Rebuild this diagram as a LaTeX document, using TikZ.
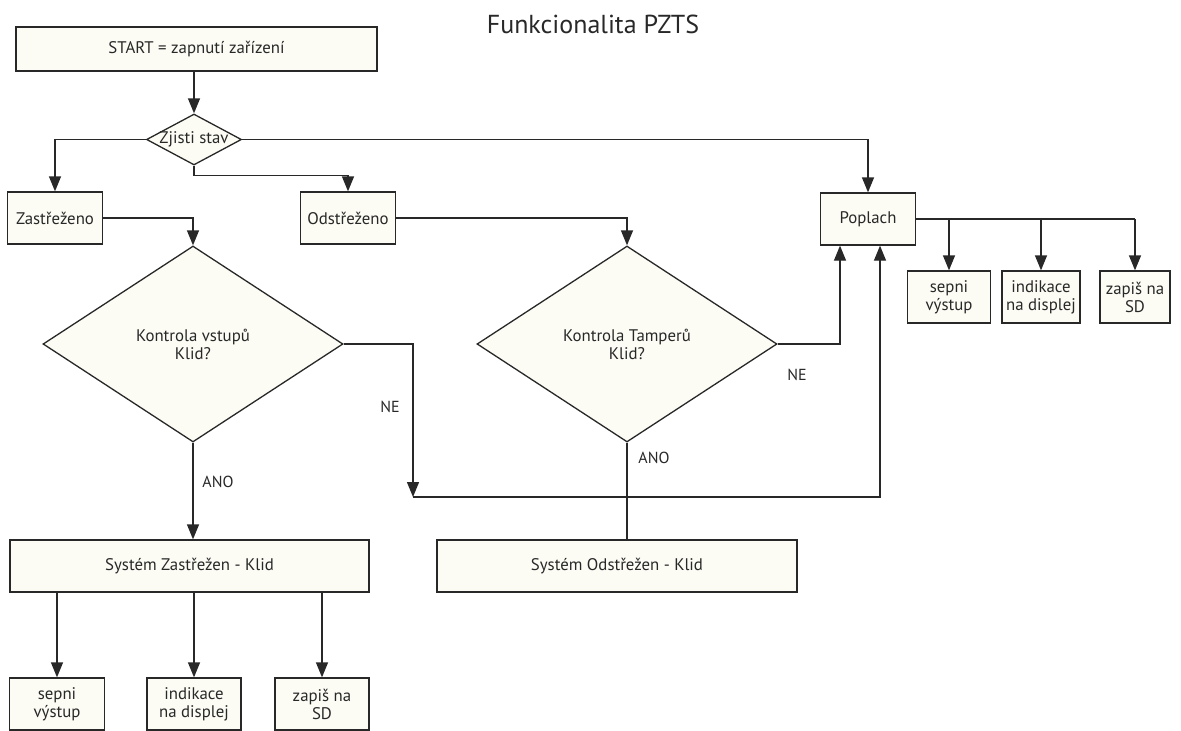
\documentclass[tikz,border=0pt]{standalone}
\usepackage{fontspec}
\setmainfont{PT Sans}
\usetikzlibrary{shapes.geometric,arrows.meta}
\definecolor{boxfill}{RGB}{252,252,245}
\definecolor{ink}{RGB}{40,40,40}
\begin{document}
\begin{tikzpicture}[x=1pt,y=-1pt,
  every node/.style={font=\fontsize{16.8}{20}\selectfont, text=ink},
  box/.style={draw=ink, line width=1.3pt, fill=boxfill, rectangle, inner sep=0pt,
    align=center, minimum height=52pt},
  dia/.style={draw=ink, line width=1.3pt, fill=boxfill, diamond, inner sep=0pt,
    align=center},
  line/.style={draw=ink, line width=1.3pt},
  arr/.style={line, -{Triangle[length=15pt,width=12pt]}},
  lbl/.style={font=\fontsize{16}{19}\selectfont}
]
\useasboundingbox (0,0) rectangle (1181,731);

% title
\node (title) at (593,24) {\fontsize{26}{30}\selectfont Funkcionalita PZTS};

% top of the flow
\node[box, minimum width=361pt, minimum height=44pt] (start) at (196.5,49) {START = zapnutí zařízení};
\node[dia, minimum width=95pt, minimum height=51pt] (zjisti) at (194,139.5) {};
\node (zjistitext) at (zjisti.center) {Zjisti stav};

% states
\node[box, minimum width=95pt] (zast) at (55,218) {Zastřeženo};
\node[box, minimum width=95pt] (odst) at (348,218) {Odstřeženo};
\node[box, minimum width=95pt] (poplach) at (868,219) {Poplach};

% alarm actions
\node[box, minimum width=83pt] (pa) at (949,297) {sepni\\[-2pt]výstup};
\node[box, minimum width=78pt] (pb) at (1041,297) {indikace\\[-2pt]na displej};
\node[box, minimum width=70pt] (pc) at (1135,297) {zapiš na\\[-2pt]SD};

% checks
\node[dia, minimum width=300pt, minimum height=196pt] (d1) at (193,344) {Kontrola vstupů\\[-2pt]Klid?};
\node[dia, minimum width=300pt, minimum height=196pt] (d2) at (627,344) {Kontrola Tamperů\\[-2pt]Klid?};

% quiet states
\node[box, minimum width=359pt] (sysz) at (189.5,566) {Systém Zastřežen - Klid};
\node[box, minimum width=360pt] (syso) at (617,566) {Systém Odstřežen - Klid};

% armed-state actions
\node[box, minimum width=95pt] (ba) at (57,704) {sepni\\[-2pt]výstup};
\node[box, minimum width=94pt] (bb) at (194,704) {indikace\\[-2pt]na displej};
\node[box, minimum width=94pt] (bc) at (322,704) {zapiš na\\[-2pt]SD};

% junction of the NE branch
\coordinate (merge) at (413,497);
\coordinate (popa) at ([xshift=-28pt]poplach.south);
\coordinate (popb) at ([xshift=12pt]poplach.south);

% connectors
\draw[arr] (zjisti.north |- start.south) -- (zjisti.north);
\draw[arr] (zjisti.west) -| (zast.north);
\draw[arr] (zjisti.south) -- ++(0,10) -| (odst.north);
\draw[arr] (zjisti.east) -| (poplach.north);
\draw[arr] (zast.east) -| (d1.north);
\draw[arr] (odst.east) -| (d2.north);
\draw[arr] (d1.south) -- (d1.south |- sysz.north);
\draw[line] (d2.south) -- (d2.south |- syso.north);
\draw[arr] (d1.east) -| (merge);
\draw[arr] (merge) -| (popb);
\draw[arr] (d2.east) -| (popa);
\draw[line] (poplach.east) -- (poplach.east -| pc.north);
\foreach \t in {pa,pb,pc} \draw[arr] (poplach.east -| \t.north) -- (\t.north);
\foreach \t in {ba,bb,bc} \draw[arr] (\t.north |- sysz.south) -- (\t.north);

% branch labels
\node[lbl] (ne1) at (390,407) {NE};
\node[lbl] (ne2) at (797,375) {NE};
\node[lbl] (ano1) at (218,482) {ANO};
\node[lbl] (ano2) at (654,458) {ANO};
\end{tikzpicture}
\end{document}
